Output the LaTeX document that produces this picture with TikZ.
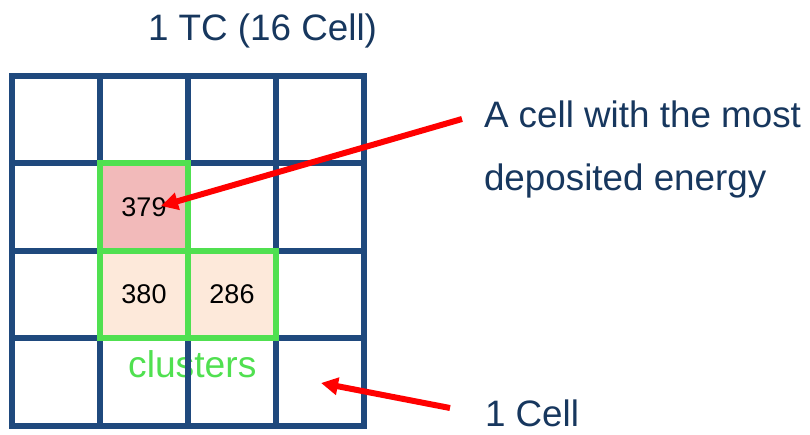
\documentclass[tikz,border=0pt]{standalone}
\usepackage{fontspec}
\setmainfont{Liberation Sans}
\usetikzlibrary{arrows.meta}

\definecolor{gridblue}{RGB}{31,73,125}
\definecolor{textnavy}{RGB}{23,55,94}
\definecolor{clustergreen}{RGB}{80,224,80}
\definecolor{seedfill}{RGB}{242,186,186}
\definecolor{memberfill}{RGB}{253,233,218}
\definecolor{arrowred}{RGB}{255,0,0}

\tikzset{
  gridline/.style={draw=gridblue, line width=6pt, line cap=rect},
  cellbox/.style={draw=clustergreen, line width=6pt, minimum width=88pt,
    minimum height=87.5pt, inner sep=0pt, outer sep=0pt,
    font=\fontsize{27}{32}\selectfont, text=black},
  label/.style={anchor=base west, inner sep=0pt, outer sep=0pt, text=textnavy,
    font=\fontsize{36.8}{44}\selectfont},
  pointer/.style={draw=arrowred, line width=6pt,
    -{Triangle[length=17pt, width=17pt]}},
}

\begin{document}
\begin{tikzpicture}[x=1pt, y=-1pt]
  \useasboundingbox (0,0) rectangle (810,434);

  % heading over the trigger cell
  \node[label] (title) at (148,40) {1 TC (16 Cell)};

  % cluster caption, sitting under the grid lines
  \node[anchor=base west, inner sep=0pt, text=clustergreen,
        font=\fontsize{37.2}{44}\selectfont] (clusters) at (128,377) {clusters};

  % 4x4 grid of cells
  \foreach \gx in {12,100,188,276,364}
    \draw[gridline] (\gx,75.5) -- (\gx,425.5);
  \foreach \gy in {75.5,163,250.5,338,425.5}
    \draw[gridline] (12,\gy) -- (364,\gy);

  % clustered cells with their energies
  \node[cellbox, fill=seedfill]   (c379) at (144,206.75) {379};
  \node[cellbox, fill=memberfill] (c380) at (144,294.25) {380};
  \node[cellbox, fill=memberfill] (c286) at (232,294.25) {286};

  % annotations
  \node[label] (most) at (484,127) {A cell with the most};
  \node[label] (energy) at (484,190) {deposited energy};
  \node[label] (onecell) at (485,426.5) {1 Cell};

  \coordinate (p1start) at (462,119);
  \coordinate (p1tip) at (161,206);
  \coordinate (p2start) at (450,408);
  \coordinate (p2tip) at (321,383);
  \draw[pointer] (p1start) -- (p1tip);
  \draw[pointer] (p2start) -- (p2tip);
\end{tikzpicture}
\end{document}
